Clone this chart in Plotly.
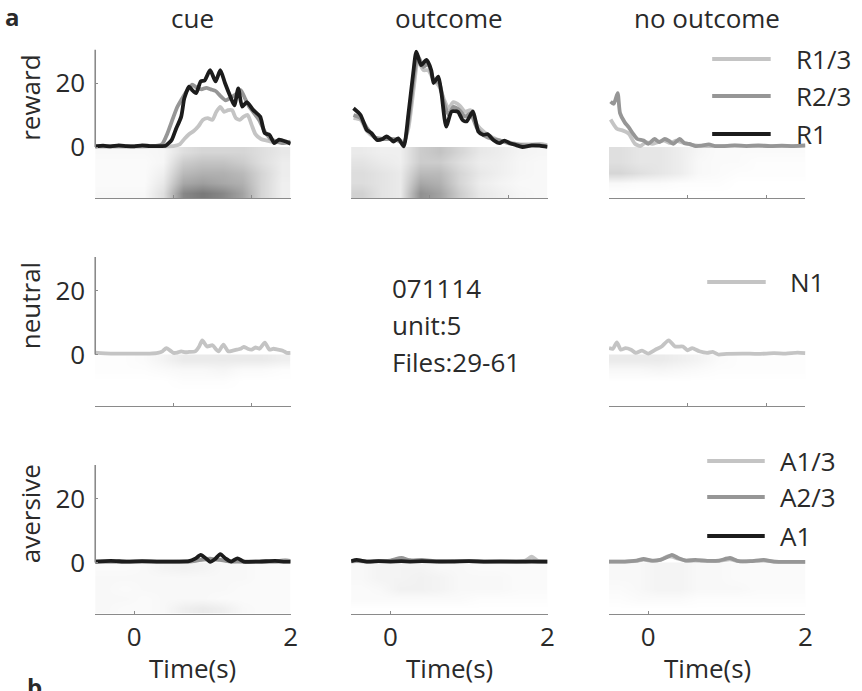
import plotly.graph_objects as go

W, H = 862, 691

# ---------------- data ----------------
row_names = ["reward", "neutral", "aversive"]
col_names = ["cue", "outcome", "no outcome"]
x_ticks = [0, 2]
y_ticks = [0, 20]

# reward / cue
cue_R13_t = [-0.5, 0, 0.3, 0.5, 0.58, 0.64, 0.7, 0.76, 0.82, 0.88, 0.94, 1.0, 1.05, 1.1, 1.15, 1.2, 1.25, 1.3, 1.35, 1.4, 1.45, 1.5, 1.55, 1.62, 1.7, 1.8, 1.9, 2.0]
cue_R13_v = [0.2, 0.2, 0.2, 0.3, 0.8, 2.5, 4, 5, 6.5, 8.5, 9, 8.5, 11, 12.5, 11, 11.5, 11.5, 9, 8.5, 9.5, 10, 7, 4, 2.5, 2, 1.5, 1.5, 1.2]
cue_R23_t = [-0.5, -0.2, 0, 0.2, 0.3, 0.36, 0.42, 0.48, 0.55, 0.62, 0.68, 0.74, 0.8, 0.86, 0.92, 0.98, 1.04, 1.1, 1.17, 1.24, 1.3, 1.36, 1.42, 1.47, 1.52, 1.6, 1.67, 1.76, 1.89, 2.0]
cue_R23_v = [0.2, 0.2, 0.2, 0.3, 0.4, 1, 4, 8, 12.5, 15.5, 17.8, 19.5, 18.5, 18.0, 18.5, 18, 17.5, 16, 14.6, 15.5, 16.5, 17.8, 15, 12.6, 11, 8.3, 4.8, 2.3, 1.2, 1.7]
cue_R1_t = [-0.5, -0.4, -0.3, -0.2, -0.1, 0, 0.1, 0.2, 0.3, 0.4, 0.44, 0.48, 0.53, 0.6, 0.64, 0.7, 0.74, 0.79, 0.85, 0.9, 0.97, 1.04, 1.10, 1.16, 1.23, 1.28, 1.33, 1.38, 1.44, 1.52, 1.61, 1.67, 1.73, 1.79, 1.85, 1.94, 2.0]
cue_R1_v = [0.2, 0.4, 0.2, 0.5, 0.3, 0.2, 0.5, 0.3, 0.3, 0.4, 1.2, 2.3, 5.4, 9.5, 15.2, 18.9, 17.8, 16.8, 20.5, 20.8, 24, 20.5, 24, 20, 15.7, 13, 18.3, 12.6, 14, 11.6, 9.5, 4.3, 3.8, 1.2, 2.3, 1.7, 1.0]

# reward / outcome
out_R_t = [-0.47, -0.38, -0.3, -0.2, -0.1, 0, 0.1, 0.17, 0.23, 0.3, 0.35, 0.42, 0.48, 0.55, 0.62, 0.68, 0.74, 0.8, 0.88, 0.95, 1.02, 1.1, 1.2, 1.3, 1.4, 1.5, 1.6, 1.7, 1.8, 1.9, 2.0]
out_R13_v = [9, 8.5, 5, 3, 2.5, 2.5, 2.5, 1.5, 6, 19, 27, 24, 24, 21, 19, 15, 12, 14, 13, 11, 11.5, 7, 4.5, 3, 2, 1.5, 1, 0.8, 0.8, 1, 0.6]
out_R23_v = [10, 9, 6, 3, 2.5, 2.5, 2, 1, 8, 22, 28.5, 25, 26, 21, 20, 14, 10, 12.5, 11.5, 9.5, 10.5, 6, 3.5, 2.5, 2, 1.2, 0.8, 0.5, 0.4, 0.5, 0.3]
out_R1_t = [-0.47, -0.38, -0.3, -0.24, -0.17, -0.1, -0.05, 0.0, 0.04, 0.1, 0.17, 0.23, 0.29, 0.33, 0.39, 0.46, 0.52, 0.55, 0.61, 0.65, 0.71, 0.78, 0.86, 0.92, 0.97, 1.05, 1.12, 1.18, 1.24, 1.31, 1.39, 1.45, 1.52, 1.6, 1.68, 1.8, 1.9, 2.0]
out_R1_v = [12.1, 10, 5.3, 4.3, 2.2, 2.5, 3.3, 2.5, 1.7, 2.7, 0.2, 10.5, 23, 29.8, 25.6, 27.2, 24, 20, 22, 16.8, 6.4, 11.1, 11, 8.4, 8, 11.1, 4.8, 3.8, 4, 2.2, 1.2, 2, 1.2, 0.6, 0, 0.5, 0.4, 0]

# reward / no outcome
no_R13_t = [-0.48, -0.4, -0.33, -0.25, -0.17, -0.1, -0.03, 0.05, 0.12, 0.2, 0.28, 0.35, 0.42, 0.5, 0.6, 0.75, 0.9, 1.1, 1.3, 1.5, 1.7, 1.9, 2.0]
no_R13_v = [8.6, 5.7, 5.2, 4.2, 1, 0.3, 1.5, 1, 1.5, 2, 1.2, 2, 1.5, 1, 0.5, 0.3, 0.3, 0.4, 0.3, 0.3, 0.3, 0.3, 0.4]
no_R23_t = [-0.48, -0.44, -0.39, -0.36, -0.3, -0.25, -0.19, -0.14, -0.06, 0, 0.08, 0.14, 0.21, 0.27, 0.32, 0.4, 0.46, 0.52, 0.6, 0.68, 0.77, 0.85, 0.95, 1.1, 1.25, 1.4, 1.55, 1.7, 1.85, 2.0]
no_R23_v = [14.2, 13.5, 16.8, 10.6, 7.7, 6.2, 4, 2.5, 2, 1, 2.5, 1.5, 2.5, 1.8, 1, 2.5, 1.2, 1, 0.3, 0.4, 0.8, 0.3, 0.3, 0.5, 0.3, 0.5, 0.3, 0.4, 0.3, 0.5]

# neutral
cue_N1_t = [-0.5, -0.3, 0, 0.2, 0.3, 0.36, 0.41, 0.46, 0.5, 0.55, 0.6, 0.65, 0.7, 0.78, 0.83, 0.87, 0.93, 1.0, 1.05, 1.08, 1.14, 1.2, 1.26, 1.31, 1.36, 1.4, 1.45, 1.5, 1.55, 1.6, 1.67, 1.73, 1.78, 1.84, 1.9, 1.95, 2.0]
cue_N1_v = [0.6, 0.3, 0.3, 0.3, 0.5, 1, 2, 1.2, 0.5, 0.6, 1, 0.7, 0.8, 1, 2.5, 4.4, 2.5, 2.9, 1.5, 1, 3.1, 1, 1.2, 1.5, 1.8, 2.4, 1.8, 1.5, 2.2, 1.8, 3.7, 1.5, 1.8, 1.5, 1.2, 0.5, 0.5]
no_N1_t = [-0.5, -0.45, -0.4, -0.35, -0.29, -0.22, -0.16, -0.08, 0, 0.09, 0.17, 0.26, 0.34, 0.44, 0.5, 0.56, 0.65, 0.75, 0.82, 0.89, 1.0, 1.2, 1.4, 1.6, 1.75, 1.9, 2.0]
no_N1_v = [2, 1.8, 3.8, 1.5, 2, 1.5, 0.5, 1.2, 0.3, 1.5, 2.5, 4.4, 2.5, 2.5, 1.3, 2, 1, 0.5, 0.8, 0, 0.2, 0.3, 0.2, 0.4, 0.3, 0.6, 0.4]

# aversive / cue
cue_A_t = [-0.5, -0.3, -0.1, 0.1, 0.3, 0.5, 0.7, 0.78, 0.85, 0.92, 0.97, 1.03, 1.1, 1.17, 1.24, 1.32, 1.4, 1.6, 1.8, 1.93, 2.0]
cue_A13_v = [0.3, 0.3, 0.3, 0.3, 0.3, 0.3, 0.4, 0.6, 0.9, 0.8, 0.6, 1.0, 0.9, 0.6, 0.4, 0.4, 0.3, 0.3, 0.3, 0.8, 0.4]
cue_A23_v = [0.3, 0.3, 0.3, 0.3, 0.3, 0.3, 0.3, 0.5, 0.8, 1.1, 1.2, 1.0, 0.8, 0.5, 0.3, 0.3, 0.3, 0.3, 0.3, 0.3, 0.3]
cue_A1_v = [0.3, 0.5, 0.3, 0.4, 0.3, 0.3, 0.4, 1.2, 2.4, 1.2, 0.2, 1.0, 2.6, 1.2, 0.3, 1.3, 0.3, 0.3, 0.5, 0.3, 0.3]

# aversive / outcome
out_A_t = [-0.5, -0.43, -0.3, -0.15, 0.0, 0.14, 0.25, 0.4, 0.6, 0.8, 1.0, 1.2, 1.4, 1.6, 1.72, 1.8, 1.88, 2.0]
out_A13_v = [0.3, 0.4, 0.3, 0.4, 0.5, 1.2, 0.6, 0.5, 0.4, 0.4, 0.4, 0.3, 0.3, 0.3, 0.6, 1.8, 0.5, 0.3]
out_A23_v = [0.4, 0.5, 0.3, 0.5, 0.6, 1.4, 0.7, 0.8, 0.4, 0.5, 0.4, 0.3, 0.4, 0.3, 0.3, 0.4, 0.3, 0.3]
out_A1_v = [0.4, 0.8, 0.3, 0.4, 0.3, 0.4, 0.3, 0.4, 0.3, 0.3, 0.4, 0.3, 0.3, 0.3, 0.3, 0.3, 0.3, 0.3]

# aversive / no outcome
no_A_t = [-0.5, -0.3, -0.15, -0.06, 0.05, 0.15, 0.25, 0.3, 0.38, 0.48, 0.6, 0.75, 0.9, 1.04, 1.15, 1.3, 1.47, 1.6, 1.8, 2.0]
no_A13_v = [0.3, 0.3, 0.5, 0.9, 0.5, 0.8, 2.0, 1.8, 1.2, 0.6, 0.6, 0.5, 0.5, 1.0, 0.4, 0.4, 0.6, 0.3, 0.2, 0.2]
no_A23_v = [0.3, 0.3, 0.6, 1.1, 0.6, 0.8, 1.8, 2.4, 1.4, 0.6, 0.8, 0.5, 0.6, 1.4, 0.4, 0.4, 0.8, 0.3, 0.2, 0.2]

# spike-raster density (rows top->bottom, 0.25 s bins), read as gray level
raster_t = [-0.375, -0.125, 0.125, 0.375, 0.625, 0.875, 1.125, 1.375, 1.625, 1.875]
raster_rows = [-1.6, -4.8, -8.0, -11.2, -14.4]
ras_cue_reward = [
    [0.03, 0.03, 0.03, 0.04, 0.14, 0.18, 0.18, 0.18, 0.14, 0.10],
    [0.02, 0.02, 0.02, 0.04, 0.22, 0.26, 0.26, 0.22, 0.14, 0.08],
    [0.02, 0.02, 0.02, 0.07, 0.30, 0.34, 0.34, 0.30, 0.18, 0.08],
    [0.02, 0.02, 0.02, 0.10, 0.38, 0.42, 0.38, 0.34, 0.18, 0.07],
    [0.03, 0.03, 0.03, 0.14, 0.52, 0.58, 0.52, 0.40, 0.18, 0.07],
]
ras_out_reward = [
    [0.09, 0.07, 0.07, 0.22, 0.26, 0.18, 0.10, 0.08, 0.05, 0.04],
    [0.12, 0.09, 0.07, 0.22, 0.22, 0.14, 0.08, 0.07, 0.04, 0.03],
    [0.15, 0.12, 0.09, 0.30, 0.30, 0.18, 0.10, 0.07, 0.04, 0.03],
    [0.15, 0.12, 0.09, 0.38, 0.34, 0.18, 0.08, 0.05, 0.03, 0.03],
    [0.20, 0.12, 0.09, 0.48, 0.40, 0.22, 0.10, 0.07, 0.04, 0.03],
]
ras_no_reward = [
    [0.14, 0.11, 0.11, 0.08, 0.04, 0.02, 0.02, 0.02, 0.02, 0.02],
    [0.14, 0.11, 0.11, 0.08, 0.03, 0.02, 0.02, 0.01, 0.01, 0.01],
    [0.18, 0.14, 0.11, 0.08, 0.03, 0.02, 0.01, 0.01, 0.01, 0.01],
    [0.03, 0.02, 0.02, 0.01, 0.01, 0.01, 0.00, 0.00, 0.00, 0.00],
    [0.00, 0.00, 0.00, 0.00, 0.00, 0.00, 0.00, 0.00, 0.00, 0.00],
]
ras_cue_neutral = [
    [0.01, 0.01, 0.02, 0.05, 0.09, 0.09, 0.09, 0.09, 0.09, 0.07],
    [0.01, 0.01, 0.01, 0.02, 0.03, 0.03, 0.04, 0.02, 0.02, 0.01],
    [0.00, 0.00, 0.00, 0.00, 0.01, 0.01, 0.01, 0.00, 0.00, 0.00],
    [0.00, 0.00, 0.00, 0.00, 0.00, 0.00, 0.00, 0.00, 0.00, 0.00],
    [0.00, 0.00, 0.00, 0.00, 0.00, 0.00, 0.00, 0.00, 0.00, 0.00],
]
ras_no_neutral = [
    [0.09, 0.09, 0.09, 0.07, 0.05, 0.02, 0.01, 0.01, 0.01, 0.01],
    [0.03, 0.03, 0.04, 0.03, 0.02, 0.01, 0.01, 0.01, 0.01, 0.01],
    [0.00, 0.00, 0.00, 0.00, 0.00, 0.00, 0.00, 0.00, 0.00, 0.00],
    [0.00, 0.00, 0.00, 0.00, 0.00, 0.00, 0.00, 0.00, 0.00, 0.00],
    [0.00, 0.00, 0.00, 0.00, 0.00, 0.00, 0.00, 0.00, 0.00, 0.00],
]
ras_cue_aversive = [
    [0.02, 0.02, 0.03, 0.05, 0.06, 0.05, 0.03, 0.03, 0.02, 0.02],
    [0.03, 0.03, 0.03, 0.03, 0.03, 0.03, 0.03, 0.03, 0.02, 0.02],
    [0.03, 0.02, 0.03, 0.03, 0.03, 0.03, 0.03, 0.02, 0.02, 0.02],
    [0.03, 0.03, 0.02, 0.03, 0.03, 0.03, 0.02, 0.02, 0.02, 0.02],
    [0.03, 0.02, 0.02, 0.03, 0.07, 0.09, 0.07, 0.03, 0.02, 0.02],
]
ras_out_aversive = [
    [0.03, 0.05, 0.05, 0.05, 0.03, 0.03, 0.02, 0.02, 0.02, 0.02],
    [0.03, 0.05, 0.05, 0.06, 0.05, 0.03, 0.03, 0.03, 0.02, 0.02],
    [0.02, 0.03, 0.06, 0.06, 0.05, 0.03, 0.03, 0.03, 0.02, 0.02],
    [0.02, 0.02, 0.02, 0.02, 0.02, 0.02, 0.01, 0.01, 0.01, 0.01],
    [0.00, 0.00, 0.00, 0.00, 0.00, 0.00, 0.00, 0.00, 0.00, 0.00],
]
ras_no_aversive = [
    [0.03, 0.03, 0.05, 0.05, 0.03, 0.03, 0.02, 0.02, 0.02, 0.02],
    [0.03, 0.03, 0.05, 0.05, 0.03, 0.03, 0.02, 0.02, 0.02, 0.02],
    [0.02, 0.03, 0.05, 0.05, 0.03, 0.03, 0.03, 0.02, 0.02, 0.02],
    [0.01, 0.02, 0.02, 0.02, 0.01, 0.01, 0.01, 0.01, 0.01, 0.01],
    [0.00, 0.00, 0.00, 0.00, 0.00, 0.00, 0.00, 0.00, 0.00, 0.00],
]

legend_reward = ["R1/3", "R2/3", "R1"]
legend_neutral = ["N1"]
legend_aversive = ["A1/3", "A2/3", "A1"]
info_lines = ["071114", "unit:5", "Files:29-61"]

# ---------------- styling ----------------
LIGHT, MID, DARK = "#c4c4c4", "#969696", "#1c1c1c"
AXC = "#8a8a8a"
TXT = "#2a2a2a"
FONT = "Open Sans"
FS = 26
LW = 3.8

col_px = [(96, 293), (354, 552), (614, 812)]
row_zero_px = [147, 354.5, 562.5]
PPU = 3.2
Y_LO, Y_HI = -16, 30.5

def px_x(p):
    return p / W

def px_y(p):
    return 1 - p / H

panels = [
    (0, 0, [(cue_R13_t, cue_R13_v, LIGHT), (cue_R23_t, cue_R23_v, MID), (cue_R1_t, cue_R1_v, DARK)], ras_cue_reward),
    (0, 1, [(out_R_t, out_R13_v, LIGHT), (out_R_t, out_R23_v, MID), (out_R1_t, out_R1_v, DARK)], ras_out_reward),
    (0, 2, [(no_R13_t, no_R13_v, LIGHT), (no_R23_t, no_R23_v, MID)], ras_no_reward),
    (1, 0, [(cue_N1_t, cue_N1_v, LIGHT)], ras_cue_neutral),
    (1, 2, [(no_N1_t, no_N1_v, LIGHT)], ras_no_neutral),
    (2, 0, [(cue_A_t, cue_A13_v, LIGHT), (cue_A_t, cue_A23_v, MID), (cue_A_t, cue_A1_v, DARK)], ras_cue_aversive),
    (2, 1, [(out_A_t, out_A13_v, LIGHT), (out_A_t, out_A23_v, MID), (out_A_t, out_A1_v, DARK)], ras_out_aversive),
    (2, 2, [(no_A_t, no_A13_v, LIGHT), (no_A_t, no_A23_v, MID)], ras_no_aversive),
]

fig = go.Figure()
layout = dict(width=W, height=H, margin=dict(l=0, r=0, t=0, b=0),
              paper_bgcolor="white", plot_bgcolor="white", showlegend=False,
              font=dict(family=FONT, size=FS, color=TXT))
shapes = []
annotations = []

for i, (r, c, curves, ras) in enumerate(panels, start=1):
    xa = "x" if i == 1 else f"x{i}"
    ya = "y" if i == 1 else f"y{i}"
    xk = "xaxis" if i == 1 else f"xaxis{i}"
    yk = "yaxis" if i == 1 else f"yaxis{i}"
    z0 = row_zero_px[r]
    top = z0 - Y_HI * PPU
    bot = z0 - Y_LO * PPU
    bottom_row = (r == 2)
    layout[xk] = dict(domain=[px_x(col_px[c][0]), px_x(col_px[c][1])], anchor=ya,
                      range=[-0.5, 2], showgrid=False, zeroline=False,
                      showline=True, linecolor=AXC, linewidth=1.3,
                      ticks="inside", ticklen=3, tickcolor=AXC, tickwidth=1,
                      tickvals=x_ticks if bottom_row else [0.5, 1.5],
                      showticklabels=bottom_row, ticklabelstandoff=0,
                      tickfont=dict(size=FS, color=TXT, family=FONT))
    layout[yk] = dict(domain=[px_y(bot), px_y(top)], anchor=xa,
                      range=[Y_LO, Y_HI], showgrid=False, zeroline=False,
                      showline=False,
                      ticks="inside" if c == 0 else "", ticklen=3, tickcolor=AXC,
                      tickvals=y_ticks, showticklabels=(c == 0), ticklabelstandoff=9,
                      tickfont=dict(size=FS, color=TXT, family=FONT))
    if c == 0:
        shapes.append(dict(type="line", xref=f"{xa} domain", yref=ya, x0=0, x1=0,
                           y0=0, y1=Y_HI, line=dict(color=AXC, width=1.6)))
    fig.add_trace(go.Heatmap(x=raster_t, y=raster_rows, z=ras, xaxis=xa, yaxis=ya,
                             zmin=0, zmax=1, zsmooth="best", showscale=False,
                             hoverinfo="skip",
                             colorscale=[[0, "rgb(255,255,255)"], [1, "rgb(25,25,25)"]]))
    for t, v, col in curves:
        fig.add_trace(go.Scatter(x=t, y=v, mode="lines", xaxis=xa, yaxis=ya,
                                 line=dict(color=col, width=LW, shape="spline", smoothing=0.6),
                                 hoverinfo="skip"))

def ann(text, x, y, size=FS, xanchor="center", yanchor="middle", angle=0, bold=False):
    annotations.append(dict(text=f"<b>{text}</b>" if bold else text, x=px_x(x), y=px_y(y),
                            xref="paper", yref="paper", showarrow=False,
                            xanchor=xanchor, yanchor=yanchor, textangle=angle,
                            font=dict(family=FONT, size=size, color=TXT)))

ann("a", 13, 17, size=24, bold=True)
ann("b", 35, 668, size=24, bold=True, yanchor="top")
for c, name in enumerate(col_names):
    cx = (col_px[c][0] + col_px[c][1]) / 2
    ann(name, cx, 18)
    ann("Time(s)", cx, 668)
for r, name in enumerate(row_names):
    z0 = row_zero_px[r]
    ann(name, 30, z0 - 15 * PPU - 1, angle=-90)

for k, line in enumerate(info_lines):
    ann(line, 393, 288 + 37 * k, xanchor="left")

def legend_block(labels, colors, ys, x0, x1, tx):
    for lab, col, yy in zip(labels, colors, ys):
        shapes.append(dict(type="line", xref="paper", yref="paper",
                           x0=px_x(x0), x1=px_x(x1), y0=px_y(yy), y1=px_y(yy),
                           line=dict(color=col, width=LW)))
        ann(lab, tx, yy, xanchor="left")

legend_block(legend_reward, [LIGHT, MID, DARK], [59, 96, 134], 718, 777, 800)
legend_block(legend_neutral, [LIGHT], [282], 713, 772, 794)
legend_block(legend_aversive, [LIGHT, MID, DARK], [461, 497, 536], 713, 771, 784)

layout["shapes"] = shapes
layout["annotations"] = annotations
fig.update_layout(**layout)
fig.write_html("out.html", config={"displayModeBar": False},
               post_script="document.body.style.margin='0';document.body.style.overflow='hidden';")
